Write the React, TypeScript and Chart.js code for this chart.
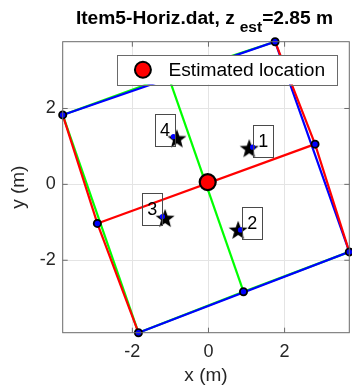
import React, { useEffect, useRef } from "react";
import { Chart, registerables } from "chart.js";

Chart.register(...registerables);

const FONT = "'Liberation Sans', Arial, Helvetica, sans-serif";
const INK = "#262626";
const FRAME = "#6a6a6a";

// Room corners (m): left, top, right, bottom
const cornerX = [-3.83, 1.75, 3.7, -1.84];
const cornerY = [1.83, 3.76, -1.78, -3.91];
// Measured side midpoints (m): left side, right side, top side, bottom side
const midX = [-2.92, 2.8, -1.05, 0.92];
const midY = [-1.03, 1.06, 2.84, -2.83];

// Anchors: surveyed position (star) and fitted position (dot)
const anchorIds = ["1", "2", "3", "4"];
const anchorTrueX = [1.07, 0.78, -1.14, -0.83];
const anchorTrueY = [0.95, -1.2, -0.89, 1.21];
const anchorFitX = [1.16, 0.84, -1.21, -0.92];
const anchorFitY = [0.98, -1.2, -0.85, 1.26];
// Where each anchor's id tag sits (m)
const tagX = [1.44, 1.15, -1.48, -1.14];
const tagY = [1.14, -1.02, -0.66, 1.43];

// Estimated tag location and height
const estX = [-0.02];
const estY = [0.06];
const zEst = 2.85;
const fileName = "Item5-Horiz.dat";
const legendText = "Estimated location";

const xLimits = [-3.83, 3.7];
const yLimits = [-3.91, 3.76];
const xTickValues = [-2, 0, 2];
const yTickValues = [-2, 0, 2];

// Plot box inside the 352x387 canvas
const AREA = { left: 62.7, right: 349.3, top: 41.7, bottom: 332.7 };

type P = { x: number; y: number };
const pt = (xs: number[], ys: number[], i: number): P => ({ x: xs[i], y: ys[i] });
const C = (i: number) => pt(cornerX, cornerY, i);
const M = (i: number) => pt(midX, midY, i);

function pentagram(r: number): HTMLCanvasElement {
  const size = Math.ceil(r * 2 + 2);
  const c = document.createElement("canvas");
  c.width = size;
  c.height = size;
  const g = c.getContext("2d")!;
  const cx = size / 2;
  const cy = size / 2 + 0.8;
  const inner = r * 0.42;
  g.beginPath();
  for (let k = 0; k < 10; k++) {
    const rad = k % 2 === 0 ? r : inner;
    const a = -Math.PI / 2 + (k * Math.PI) / 5;
    const px = cx + rad * Math.cos(a);
    const py = cy + rad * Math.sin(a);
    if (k === 0) g.moveTo(px, py);
    else g.lineTo(px, py);
  }
  g.closePath();
  g.fillStyle = "#000";
  g.fill();
  return c;
}

function line(data: P[], color: string, order: number) {
  return {
    type: "line" as const,
    data,
    showLine: true,
    borderColor: color,
    backgroundColor: color,
    borderWidth: 2.2,
    pointRadius: 0,
    tension: 0,
    clip: false as const,
    order,
  };
}

const framePlugin = {
  id: "frame",
  afterDatasetsDraw(chart: any) {
    const { ctx, chartArea: a, scales } = chart;
    ctx.save();
    ctx.strokeStyle = FRAME;
    ctx.lineWidth = 1;
    ctx.strokeRect(a.left, a.top, a.right - a.left, a.bottom - a.top);
    const tl = 5;
    ctx.beginPath();
    for (const v of xTickValues) {
      const px = scales.x.getPixelForValue(v);
      ctx.moveTo(px, a.bottom);
      ctx.lineTo(px, a.bottom - tl);
      ctx.moveTo(px, a.top);
      ctx.lineTo(px, a.top + tl);
    }
    for (const v of yTickValues) {
      const py = scales.y.getPixelForValue(v);
      ctx.moveTo(a.left, py);
      ctx.lineTo(a.left + tl, py);
      ctx.moveTo(a.right, py);
      ctx.lineTo(a.right - tl, py);
    }
    ctx.stroke();
    ctx.restore();
  },
};

const tagPlugin = {
  id: "tags",
  afterDatasetsDraw(chart: any) {
    const { ctx, scales } = chart;
    ctx.save();
    ctx.font = `18px ${FONT}`;
    ctx.textAlign = "center";
    ctx.textBaseline = "middle";
    ctx.strokeStyle = "#4a4a4a";
    ctx.lineWidth = 1;
    anchorIds.forEach((id, i) => {
      const cx = scales.x.getPixelForValue(tagX[i]);
      const cy = scales.y.getPixelForValue(tagY[i]);
      ctx.strokeRect(Math.round(cx - 10) + 0.5, Math.round(cy - 16) + 0.5, 20, 32);
      ctx.fillStyle = "#000";
      ctx.fillText(id, cx, cy + 1);
    });
    ctx.restore();
  },
};

const legendPlugin = {
  id: "boxLegend",
  afterDraw(chart: any) {
    const { ctx, chartArea: a } = chart;
    ctx.save();
    ctx.font = `19.2px ${FONT}`;
    const tw = ctx.measureText(legendText).width;
    const h = 29.5;
    const w = 51.5 + tw + 11.5;
    const right = a.right - 12.6;
    const left = right - w;
    const top = a.top + 13.3;
    ctx.fillStyle = "#fff";
    ctx.fillRect(left, top, w, h);
    ctx.strokeStyle = FRAME;
    ctx.lineWidth = 1;
    ctx.strokeRect(Math.round(left) + 0.5, Math.round(top) + 0.5, Math.round(w), Math.round(h));
    const cy = top + h / 2;
    ctx.beginPath();
    ctx.arc(left + 26, cy, 8, 0, Math.PI * 2);
    ctx.fillStyle = "#ff0000";
    ctx.fill();
    ctx.lineWidth = 2;
    ctx.strokeStyle = "#000";
    ctx.stroke();
    ctx.fillStyle = "#000";
    ctx.textBaseline = "middle";
    ctx.textAlign = "left";
    ctx.fillText(legendText, left + 51.5, cy + 1);
    ctx.restore();
  },
};

const titlePlugin = {
  id: "subTitle",
  afterDraw(chart: any) {
    const { ctx, chartArea: a } = chart;
    const main = `${fileName}, z`;
    const sub = "est";
    const tail = `=${zEst.toFixed(2)} m`;
    ctx.save();
    ctx.fillStyle = "#000";
    ctx.textBaseline = "alphabetic";
    ctx.textAlign = "left";
    const bigFont = `bold 19.2px ${FONT}`;
    const smallFont = `bold 15.5px ${FONT}`;
    ctx.font = bigFont;
    const w1 = ctx.measureText(main).width;
    const w3 = ctx.measureText(tail).width;
    ctx.font = smallFont;
    const w2 = ctx.measureText(sub).width;
    const gap = 5;
    const total = w1 + gap + w2 + w3;
    let x = (a.left + a.right) / 2 - total / 2 - 1.5;
    const base = 23.5;
    ctx.font = bigFont;
    ctx.fillText(main, x, base);
    x += w1 + gap;
    ctx.font = smallFont;
    ctx.fillText(sub, x, base + 8);
    x += w2;
    ctx.font = bigFont;
    ctx.fillText(tail, x, base);
    ctx.restore();
  },
};

export default function App() {
  const ref = useRef<HTMLCanvasElement | null>(null);

  useEffect(() => {
    if (!ref.current) return;
    const star = pentagram(10);

    const markerPts: P[] = [0, 1, 2, 3].map(C).concat([0, 1, 2, 3].map(M));

    const chart = new Chart(ref.current, {
      type: "scatter",
      data: {
        datasets: [
          // green: top and bottom sides through their midpoints, the cross line, and the left side
          line([C(0), M(2), C(1)], "#00ff00", 9),
          line([C(3), M(3), C(2)], "#00ff00", 9),
          line([M(2), M(3)], "#00ff00", 9),
          line([C(0), C(3)], "#00ff00", 7),
          // blue: straight room outline
          line([C(0), C(1), C(2), C(3)], "#0000ff", 8),
          // red: left and right sides through their midpoints, and the cross line
          line([C(0), M(0), C(3)], "#ff0000", 6),
          line([C(1), M(1), C(2)], "#ff0000", 6),
          line([M(0), M(1)], "#ff0000", 6),
          {
            type: "scatter" as const,
            data: markerPts,
            pointRadius: 3.6,
            pointBorderWidth: 1.8,
            pointBackgroundColor: "#0000ff",
            pointBorderColor: "#000",
            clip: false as const,
            order: 4,
          },
          {
            type: "scatter" as const,
            data: anchorTrueX.map((x, i) => ({ x, y: anchorTrueY[i] })),
            pointStyle: star,
            pointRadius: 10,
            clip: false as const,
            order: 3,
          },
          {
            type: "scatter" as const,
            data: anchorFitX.map((x, i) => ({ x, y: anchorFitY[i] })),
            pointRadius: 2.6,
            pointBorderWidth: 0,
            pointBackgroundColor: "#0000ff",
            clip: false as const,
            order: 2,
          },
          {
            type: "scatter" as const,
            data: estX.map((x, i) => ({ x, y: estY[i] })),
            pointRadius: 8,
            pointBorderWidth: 2.2,
            pointBackgroundColor: "#ff0000",
            pointBorderColor: "#000",
            clip: false as const,
            order: 1,
          },
        ] as any,
      },
      options: {
        animation: false,
        responsive: false,
        maintainAspectRatio: false,
        events: [],
        layout: {
          autoPadding: false,
          padding: { left: 0, right: 352 - AREA.right, top: AREA.top, bottom: 0 },
        },
        plugins: {
          legend: { display: false },
          tooltip: { enabled: false },
          title: { display: false },
        },
        scales: {
          x: {
            type: "linear",
            min: xLimits[0],
            max: xLimits[1],
            afterBuildTicks: (s: any) => {
              s.ticks = xTickValues.map((value) => ({ value }));
            },
            afterFit: (s: any) => {
              s.height = 387 - AREA.bottom;
              s.paddingLeft = 0;
              s.paddingRight = 0;
            },
            grid: { color: "#e4e4e4", lineWidth: 1, drawTicks: false },
            border: { display: false },
            ticks: { padding: 9, color: INK, font: { family: FONT, size: 18 } },
            title: {
              display: true,
              text: "x (m)",
              color: INK,
              padding: 0,
              font: { family: FONT, size: 19 },
            },
          },
          y: {
            type: "linear",
            min: yLimits[0],
            max: yLimits[1],
            afterBuildTicks: (s: any) => {
              s.ticks = yTickValues.map((value) => ({ value }));
            },
            afterFit: (s: any) => {
              s.width = AREA.left;
              s.paddingTop = 0;
              s.paddingBottom = 0;
            },
            grid: { color: "#e4e4e4", lineWidth: 1, drawTicks: false },
            border: { display: false },
            ticks: { padding: 7, color: INK, font: { family: FONT, size: 18 } },
            title: {
              display: true,
              text: "y (m)",
              color: INK,
              padding: { top: 7, bottom: 0 },
              font: { family: FONT, size: 19 },
            },
          },
        },
      },
      plugins: [framePlugin, tagPlugin, legendPlugin, titlePlugin],
    } as any);

    return () => chart.destroy();
  }, []);

  return (
    <div style={{ position: "fixed", left: 0, top: 0, width: 352, height: 387, background: "#fff" }}>
      <canvas ref={ref} width={352} height={387} style={{ width: 352, height: 387, display: "block" }} />
    </div>
  );
}
